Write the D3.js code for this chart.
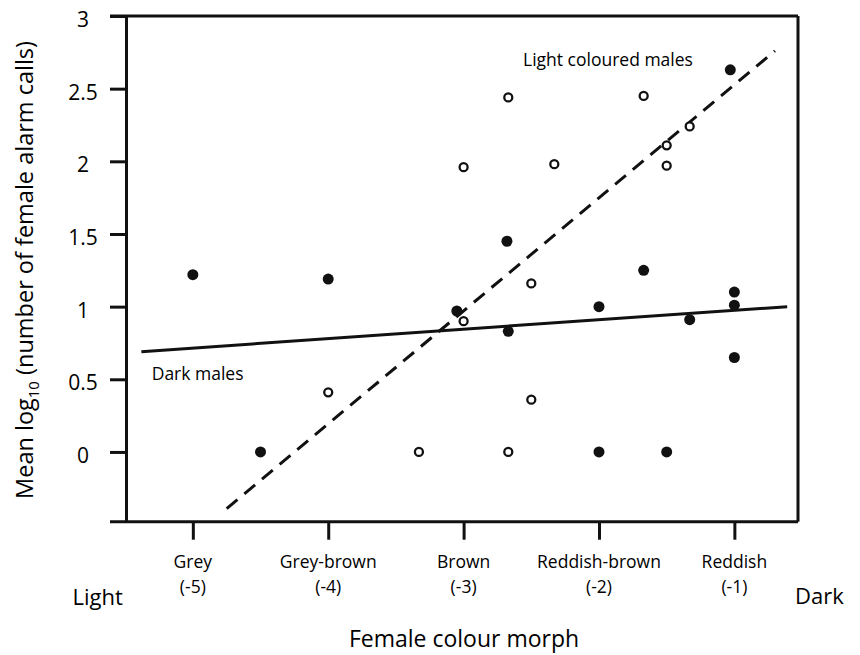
<!DOCTYPE html>
<html>
<head>
<meta charset="utf-8">
<script src="https://cdn.jsdelivr.net/npm/d3@7"></script>
<style>
  body { margin: 0; background: #fff; }
  text { font-family: "Open Sans", sans-serif; fill: #000; }
</style>
</head>
<body>
<div id="chart"></div>
<script>
// female colour morph categories (score on x axis)
const morphNames = ['Grey', 'Grey-brown', 'Brown', 'Reddish-brown', 'Reddish'];
const morphScores = [-5, -4, -3, -2, -1];
const yTicks = [0, 0.5, 1, 1.5, 2, 2.5, 3];

// dark males (filled dots)
const darkX = [-5, -4, -4.5, -3.05, -2.68, -2.67, -2, -2, -1.67, -1.5, -1.33, -1, -1, -1, -1.03];
const darkY = [1.22, 1.19, 0, 0.97, 1.45, 0.83, 1.0, 0, 1.25, 0, 0.91, 1.10, 1.01, 0.65, 2.63];

// light coloured males (open dots)
const lightX = [-2.67, -1.67, -1.33, -1.5, -3, -2.33, -1.5, -3, -2.5, -2.5, -4, -3.33, -2.67];
const lightY = [2.44, 2.45, 2.24, 2.11, 1.96, 1.98, 1.97, 0.90, 1.16, 0.36, 0.41, 0, 0];

// fitted lines (end points)
const darkFit = [[-5.38, 0.69], [-0.61, 1.0]];
const lightFit = [[-4.75, -0.39], [-0.70, 2.76]];

const width = 860, height = 655;
const ink = '#111';

const svg = d3.select('#chart').append('svg')
    .attr('width', width)
    .attr('height', height);

const x = d3.scaleLinear().domain([-5.49, -0.53]).range([126.5, 798]);
const y = d3.scaleLinear().domain([-0.48, 3]).range([521.7, 16]);

// frame
const frame = svg.append('g').attr('stroke', ink).attr('stroke-width', 3).attr('fill', 'none');
frame.append('line').attr('x1', 110).attr('x2', x.range()[1]).attr('y1', y.range()[1]).attr('y2', y.range()[1]);
frame.append('line').attr('x1', 110).attr('x2', x.range()[1]).attr('y1', y.range()[0]).attr('y2', y.range()[0]);
frame.append('line').attr('x1', x.range()[0]).attr('x2', x.range()[0]).attr('y1', y.range()[1]).attr('y2', y.range()[0]);
frame.append('line').attr('x1', x.range()[1]).attr('x2', x.range()[1]).attr('y1', y.range()[1]).attr('y2', y.range()[0]);

// y axis
const yAxis = svg.append('g')
    .attr('transform', `translate(${x.range()[0]},0)`)
    .call(d3.axisLeft(y).tickValues(yTicks).tickSize(16.5).tickSizeOuter(0).tickFormat(d3.format('')));
yAxis.select('.domain').remove();
yAxis.selectAll('line').attr('stroke', ink).attr('stroke-width', 3);
yAxis.selectAll('text')
    .attr('text-anchor', 'middle')
    .attr('x', -43.5)
    .attr('dy', null)
    .attr('y', 10.5)
    .style('font-family', '"Open Sans", sans-serif')
    .style('font-size', '21px')
    .attr('fill', '#000');

// x axis
const xAxis = svg.append('g')
    .attr('transform', `translate(0,${y.range()[0]})`)
    .call(d3.axisBottom(x).tickValues(morphScores).tickSize(18).tickSizeOuter(0).tickFormat(''));
xAxis.select('.domain').remove();
xAxis.selectAll('line').attr('stroke', ink).attr('stroke-width', 3);

const xLab = svg.append('g').selectAll('text')
    .data(morphScores)
    .join('text')
    .attr('x', d => x(d))
    .attr('text-anchor', 'middle')
    .style('font-size', '17.5px');
xLab.append('tspan').attr('x', d => x(d)).attr('y', 568).text((d, i) => morphNames[i]);
xLab.append('tspan').attr('x', d => x(d)).attr('y', 593).text(d => `(${d})`);

svg.append('text').attr('x', 72.5).attr('y', 605).style('font-size', '22px').text('Light');
svg.append('text').attr('x', 795).attr('y', 604).style('font-size', '22px').text('Dark');

svg.append('text')
    .attr('x', 464).attr('y', 647)
    .attr('text-anchor', 'middle')
    .style('font-size', '23px')
    .text('Female colour morph');

const yTitle = svg.append('text')
    .attr('transform', 'translate(33,270) rotate(-90)')
    .attr('text-anchor', 'middle')
    .style('font-size', '23.5px');
yTitle.append('tspan').text('Mean log');
yTitle.append('tspan').attr('dy', 6).style('font-size', '15px').text('10');
yTitle.append('tspan').attr('dy', -6).text(' (number of female alarm calls)');

// fitted lines
const line = d3.line().x(d => x(d[0])).y(d => y(d[1]));
svg.append('path').datum(darkFit).attr('d', line)
    .attr('fill', 'none').attr('stroke', ink).attr('stroke-width', 3);
svg.append('path').datum(lightFit).attr('d', line)
    .attr('fill', 'none').attr('stroke', ink).attr('stroke-width', 3)
    .attr('stroke-dasharray', '14,9');

// points
svg.append('g').selectAll('circle')
    .data(darkX.map((d, i) => [d, darkY[i]]))
    .join('circle')
    .attr('cx', d => x(d[0]))
    .attr('cy', d => y(d[1]))
    .attr('r', 5.5)
    .attr('fill', ink);

svg.append('g').selectAll('circle')
    .data(lightX.map((d, i) => [d, lightY[i]]))
    .join('circle')
    .attr('cx', d => x(d[0]))
    .attr('cy', d => y(d[1]))
    .attr('r', 4)
    .attr('fill', '#fff')
    .attr('stroke', ink)
    .attr('stroke-width', 2.3);

// line labels
svg.append('text').attr('x', 523).attr('y', 65.7).style('font-size', '17.5px').text('Light coloured males');
svg.append('text').attr('x', 151.7).attr('y', 380).style('font-size', '17.5px').text('Dark males');
</script>
</body>
</html>
